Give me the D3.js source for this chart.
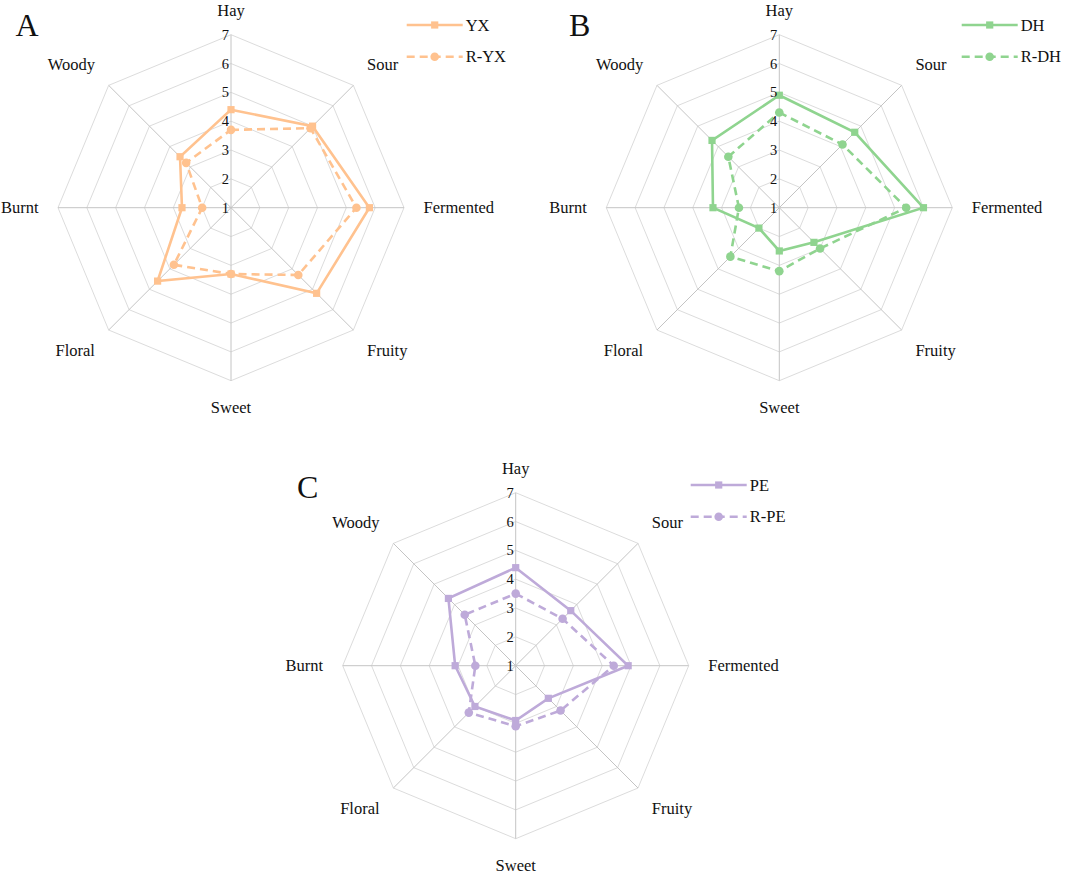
<!DOCTYPE html>
<html>
<head>
<meta charset="utf-8">
<script src="https://cdn.jsdelivr.net/npm/d3@7"></script>
<style>
  body { margin: 0; background: #fff; }
  text { font-family: "Liberation Serif", "Times New Roman", serif; fill: #111; }
</style>
</head>
<body>
<svg id="chart"></svg>
<script>
// Three radar charts (A, B, C): sensory attributes, sample vs R-sample

const CATEGORIES = ['Hay', 'Sour', 'Fermented', 'Fruity', 'Sweet', 'Floral', 'Burnt', 'Woody'];
const TICKS = [1, 2, 3, 4, 5, 6, 7];

// values, in CATEGORIES order
const YX   = [4.4, 5.0, 5.8, 5.2, 3.3, 4.6, 2.7, 3.5];
const R_YX = [3.7, 4.9, 5.35, 4.3, 3.3, 3.8, 2.0, 3.2];
const DH   = [4.9, 4.7, 6.0, 2.7, 2.5, 2.0, 3.3, 4.3];
const R_DH = [4.3, 4.1, 5.4, 3.0, 3.2, 3.4, 2.4, 3.5];
const PE   = [4.4, 3.7, 4.9, 2.6, 2.9, 3.0, 3.1, 4.3];
const R_PE = [3.5, 3.3, 4.4, 3.2, 3.1, 3.3, 2.4, 3.5];

const PANEL_LETTERS = ['A', 'B', 'C'];
const SERIES_NAMES = [['YX', 'R-YX'], ['DH', 'R-DH'], ['PE', 'R-PE']];
const SERIES_VALUES = [[YX, R_YX], [DH, R_DH], [PE, R_PE]];

// layout (not data)
const WIDTH = 1065, HEIGHT = 874;
const RADIUS = 173;
const PANELS = [
  { cx: 231,   cy: 207.7, color: '#FFC28F', legendX: 406.7, legendY: 25,  letterX: 15.5,  letterY: 36 },
  { cx: 779.3, cy: 207.7, color: '#8FD48F', legendX: 961.7, legendY: 25,  letterX: 569,   letterY: 36 },
  { cx: 515.7, cy: 665.7, color: '#BEAAD9', legendX: 690.7, legendY: 485, letterX: 297,   letterY: 498 }
];

const svg = d3.select('#chart')
  .attr('width', WIDTH)
  .attr('height', HEIGHT)
  .attr('viewBox', `0 0 ${WIDTH} ${HEIGHT}`);

const rScale = d3.scaleLinear().domain([1, 7]).range([0, RADIUS]);
const angle = i => i * 2 * Math.PI / CATEGORIES.length;

function drawRadar(p, idx) {
  const g = svg.append('g').attr('transform', `translate(${p.cx},${p.cy})`);

  // rings
  const ring = d3.lineRadial()
    .angle((d, i) => angle(i))
    .radius(d => rScale(d))
    .curve(d3.curveLinearClosed);

  g.selectAll('path.ring')
    .data(TICKS.slice(1))
    .join('path')
    .attr('class', 'ring')
    .attr('d', t => ring(CATEGORIES.map(() => t)))
    .attr('fill', 'none')
    .attr('stroke', '#dcdcdc')
    .attr('stroke-width', 1);

  // spokes
  g.selectAll('line.spoke')
    .data(CATEGORIES)
    .join('line')
    .attr('class', 'spoke')
    .attr('x1', 0).attr('y1', 0)
    .attr('x2', (d, i) => rScale(7) * Math.sin(angle(i)))
    .attr('y2', (d, i) => -rScale(7) * Math.cos(angle(i)))
    .attr('stroke', '#c4c4c4')
    .attr('stroke-width', 1);

  // category labels
  const rL = RADIUS + 19.5;
  g.selectAll('text.cat')
    .data(CATEGORIES)
    .join('text')
    .attr('class', 'cat')
    .attr('font-size', '16.5px')
    .each(function (d, i) {
      const x = rL * Math.sin(angle(i));
      const y = -rL * Math.cos(angle(i));
      const t = d3.select(this).text(d).attr('x', x);
      t.attr('text-anchor', x > 1 ? 'start' : x < -1 ? 'end' : 'middle');
      if (y < -1) t.attr('y', Math.abs(x) < 1 ? y + 0.5 : y - 2);
      else if (y > 1) t.attr('y', y + 12.5);
      else t.attr('y', y).attr('dominant-baseline', 'central');
    });

  const vals = SERIES_VALUES[idx];
  const line = d3.lineRadial()
    .angle((d, i) => angle(i))
    .radius(d => rScale(d))
    .curve(d3.curveLinearClosed);

  // dashed series (R-*)
  g.append('path')
    .attr('d', line(vals[1]))
    .attr('fill', 'none')
    .attr('stroke', p.color)
    .attr('stroke-width', 2.6)
    .attr('stroke-dasharray', '8,5');

  g.selectAll('circle.pt')
    .data(vals[1])
    .join('circle')
    .attr('class', 'pt')
    .attr('cx', (d, i) => rScale(d) * Math.sin(angle(i)))
    .attr('cy', (d, i) => -rScale(d) * Math.cos(angle(i)))
    .attr('r', 4.3)
    .attr('fill', p.color);

  // solid series
  g.append('path')
    .attr('d', line(vals[0]))
    .attr('fill', 'none')
    .attr('stroke', p.color)
    .attr('stroke-width', 2.6);

  g.selectAll('rect.pt')
    .data(vals[0])
    .join('rect')
    .attr('class', 'pt')
    .attr('x', (d, i) => rScale(d) * Math.sin(angle(i)) - 3.6)
    .attr('y', (d, i) => -rScale(d) * Math.cos(angle(i)) - 3.6)
    .attr('width', 7.2)
    .attr('height', 7.2)
    .attr('fill', p.color);

  // tick labels along Hay axis
  g.selectAll('text.tick')
    .data(TICKS)
    .join('text')
    .attr('class', 'tick')
    .attr('x', -2)
    .attr('y', d => -rScale(d))
    .attr('text-anchor', 'end')
    .attr('dominant-baseline', 'central')
    .attr('font-size', '14.5px')
    .text(d => d);

  // panel letter
  svg.append('text')
    .attr('x', p.letterX)
    .attr('y', p.letterY)
    .attr('font-size', '32px')
    .text(PANEL_LETTERS[idx]);

  // legend
  const lg = svg.append('g').attr('transform', `translate(${p.legendX},${p.legendY})`);
  SERIES_NAMES[idx].forEach((name, k) => {
    const y = k * 31.7;
    lg.append('line')
      .attr('x1', 0).attr('x2', 56)
      .attr('y1', y).attr('y2', y)
      .attr('stroke', p.color)
      .attr('stroke-width', 2.6)
      .attr('stroke-dasharray', k === 1 ? '8,5' : null);
    if (k === 0) {
      lg.append('rect')
        .attr('x', 28 - 3.6).attr('y', y - 3.6)
        .attr('width', 7.2).attr('height', 7.2)
        .attr('fill', p.color);
    } else {
      lg.append('circle')
        .attr('cx', 28).attr('cy', y)
        .attr('r', 4.3)
        .attr('fill', p.color);
    }
    lg.append('text')
      .attr('x', 59)
      .attr('y', y)
      .attr('dominant-baseline', 'central')
      .attr('font-size', '16.5px')
      .text(name);
  });
}

PANELS.forEach(drawRadar);
</script>
</body>
</html>
